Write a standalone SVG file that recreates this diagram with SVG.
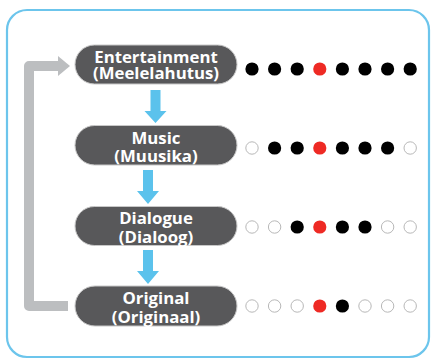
<svg xmlns="http://www.w3.org/2000/svg" width="432" height="359" viewBox="0 0 432 359">
<style>
.frame{fill:#fff;stroke:#6cc5ec;stroke-width:2.2}
.node{fill:#58585a;stroke:#c8c8c8;stroke-width:1}
.lbl{fill:#fff;font-family:"Open Sans","Noto Sans",sans-serif;font-weight:700;font-size:16.8px;text-anchor:middle}
.b{fill:#000}
.r{fill:#ee2a24}
.o{fill:#fff;stroke:#b8b8b8;stroke-width:1}
.down{fill:#5bc2ec}
.loop{fill:none;stroke:#bcbec0;stroke-width:10;stroke-linejoin:round}
</style>
<rect class="frame" x="7" y="10" width="422" height="347" rx="20"/>
<g id="connectors">
<path class="loop" d="M68,306 H29 V66 H59"/>
<polygon fill="#bcbec0" points="58,56 70,66 58,76"/>
<path class="down" d="M150.5,90 h10 v21 h6 l-11,12 l-11,-12 h6 z"/>
<path class="down" d="M143,170 h10 v21 h6 l-11,13 l-11,-13 h6 z"/>
<path class="down" d="M143,250 h10 v21 h6 l-11,13 l-11,-13 h6 z"/>
</g>
<g id="node-entertainment">
<rect class="node" x="75" y="45" width="162" height="39" rx="19.5"/>
<text class="lbl" x="156" y="62.7">Entertainment<tspan x="156" dy="16.6">(Meelelahutus)</tspan></text>
<g>
<circle class="b" cx="252" cy="69" r="6.6"/><circle class="b" cx="274.6" cy="69" r="6.6"/><circle class="b" cx="297.2" cy="69" r="6.6"/><circle class="r" cx="319.8" cy="69" r="6.6"/><circle class="b" cx="342.4" cy="69" r="6.6"/><circle class="b" cx="365" cy="69" r="6.6"/><circle class="b" cx="387.6" cy="69" r="6.6"/><circle class="b" cx="410.2" cy="69" r="6.6"/>
</g>
</g>
<g id="node-music">
<rect class="node" x="75" y="125.5" width="162" height="39.5" rx="19.7"/>
<text class="lbl" x="156" y="144">Music<tspan x="156" dy="18">(Muusika)</tspan></text>
<g>
<circle class="o" cx="252" cy="148" r="6.2"/><circle class="b" cx="274.6" cy="148" r="6.6"/><circle class="b" cx="297.2" cy="148" r="6.6"/><circle class="r" cx="319.8" cy="148" r="6.6"/><circle class="b" cx="342.4" cy="148" r="6.6"/><circle class="b" cx="365" cy="148" r="6.6"/><circle class="b" cx="387.6" cy="148" r="6.6"/><circle class="o" cx="410.2" cy="148" r="6.2"/>
</g>
</g>
<g id="node-dialogue">
<rect class="node" x="75" y="206.5" width="162" height="39" rx="19.5"/>
<text class="lbl" x="156" y="224">Dialogue<tspan x="156" dy="18.5">(Dialoog)</tspan></text>
<g>
<circle class="o" cx="252" cy="227" r="6.2"/><circle class="o" cx="274.6" cy="227" r="6.2"/><circle class="b" cx="297.2" cy="227" r="6.6"/><circle class="r" cx="319.8" cy="227" r="6.6"/><circle class="b" cx="342.4" cy="227" r="6.6"/><circle class="b" cx="365" cy="227" r="6.6"/><circle class="o" cx="387.6" cy="227" r="6.2"/><circle class="o" cx="410.2" cy="227" r="6.2"/>
</g>
</g>
<g id="node-original">
<rect class="node" x="75" y="286" width="162" height="40" rx="20"/>
<text class="lbl" x="156" y="304">Original<tspan x="156" dy="18.5">(Originaal)</tspan></text>
<g>
<circle class="o" cx="252" cy="306" r="6.2"/><circle class="o" cx="274.6" cy="306" r="6.2"/><circle class="o" cx="297.2" cy="306" r="6.2"/><circle class="r" cx="319.8" cy="306" r="6.6"/><circle class="b" cx="342.4" cy="306" r="6.6"/><circle class="o" cx="365" cy="306" r="6.2"/><circle class="o" cx="387.6" cy="306" r="6.2"/><circle class="o" cx="410.2" cy="306" r="6.2"/>
</g>
</g>
</svg>
